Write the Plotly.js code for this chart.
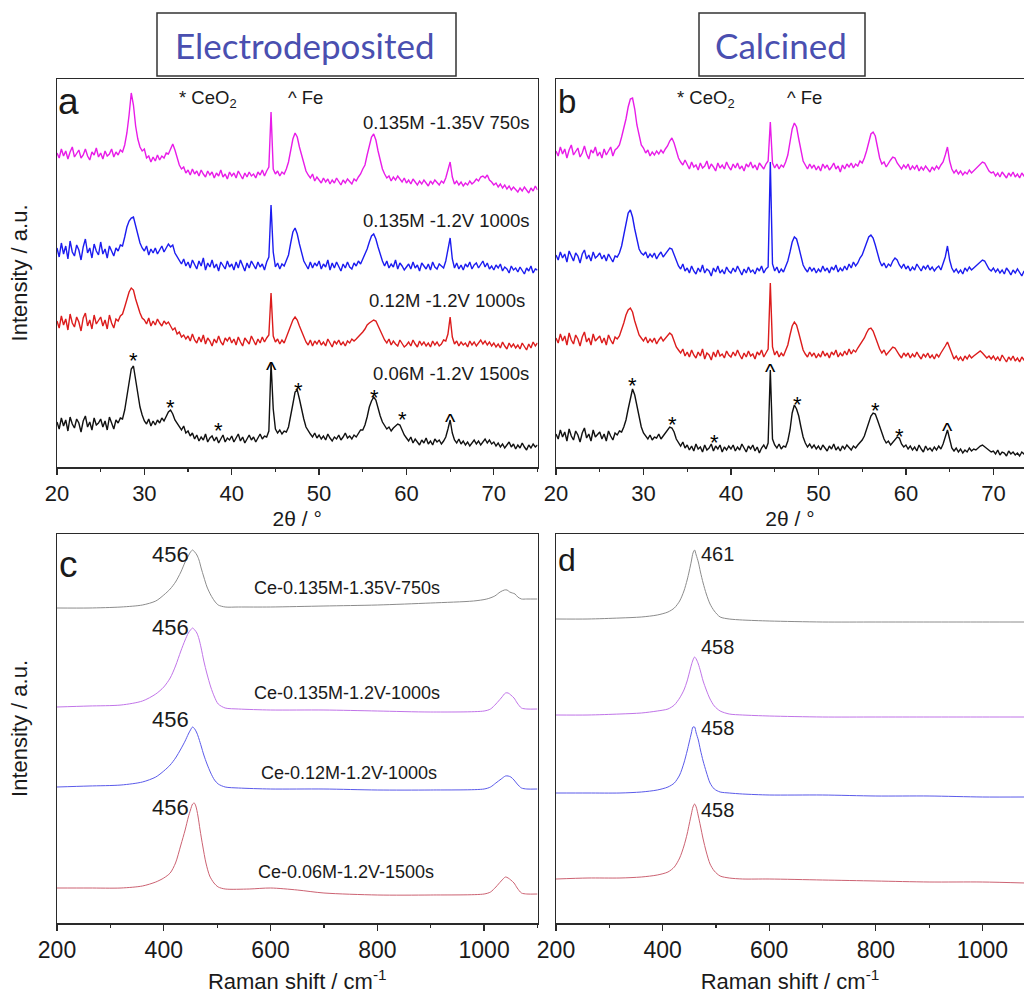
<!DOCTYPE html>
<html><head><meta charset="utf-8">
<script src="https://cdn.plot.ly/plotly-3.0.1.min.js"></script>
<style>html,body{margin:0;padding:0;background:#fff}#chart{width:1024px;height:994px}</style>
</head><body><div id="chart"></div>
<script>
// ---------- XRD data (2θ scan 20–75°, step 0.25°), intensities are stacked (offset) a.u. ----------
const twoTheta = [];
for (let i = 0; i <= 220; i++) twoTheta.push(+(20 + i * 0.25).toFixed(2));

const xrdA_135_135 = [
314,309,318,311,316,308,315,320,310,313,317,309,312,318,311,307,315,312,319,310,
314,308,316,311,313,318,310,315,312,317,315,322,334,352,374,362,341,328,320,316,
318,309,311,305,310,306,312,307,311,309,314,313,318,323,317,308,302,298,300,294,
297,292,298,293,296,291,297,293,290,296,292,295,289,294,291,297,290,293,288,295,
291,294,289,296,292,288,294,290,295,291,293,289,295,292,297,291,296,300,355,298,
293,296,291,295,293,298,305,318,328,334,330,320,312,303,296,292,289,293,286,290,
287,284,289,285,288,283,287,284,289,285,282,287,284,288,285,283,288,286,290,293,
298,302,312,322,330,333,327,316,306,298,293,289,291,286,290,287,291,288,285,289,
284,287,283,288,285,282,286,283,287,284,281,286,283,287,284,282,286,284,289,296,
305,290,283,286,282,285,281,284,282,286,283,285,288,286,290,291,289,292,287,285,
282,284,280,283,279,282,278,281,277,280,278,275,279,276,280,277,274,279,276,281,
277];
const xrdA_135_12 = [
219,210,224,213,221,208,226,215,211,222,217,207,220,228,214,219,209,223,216,212,
225,213,218,209,221,215,211,219,216,222,221,230,240,246,249,250,242,232,224,219,
216,221,212,218,214,219,213,217,221,215,219,223,220,222,214,210,206,203,208,201,
205,199,207,202,198,206,201,209,197,204,200,207,199,203,196,205,201,198,206,200,
203,197,205,199,207,201,196,204,199,206,202,198,205,200,203,197,205,210,262,215,
200,204,198,203,201,206,212,224,235,239,233,223,213,206,202,198,205,199,204,201,
206,198,203,200,207,197,204,199,205,201,196,203,199,205,200,198,204,201,206,203,
208,212,218,225,231,233,228,220,212,206,201,206,199,203,200,207,198,204,201,197,
200,203,198,205,199,202,196,204,201,198,203,197,205,200,198,203,201,199,206,216,
229,208,199,204,198,202,197,203,200,205,198,202,204,199,203,206,200,204,198,201,
197,202,199,203,196,200,198,194,201,197,199,195,200,196,193,199,196,201,194,198,
197];
const xrdA_12_12 = [
146,139,151,142,148,137,153,144,140,150,145,136,149,154,141,147,138,152,143,146,
150,141,147,138,152,144,139,148,146,151,153,160,168,175,179,177,168,160,154,149,
147,143,149,141,146,142,148,144,141,146,143,145,141,137,139,133,135,130,132,128,
131,126,133,127,124,130,125,132,123,129,126,121,128,124,131,125,122,129,126,130,
124,128,122,130,125,121,129,126,123,131,127,122,128,124,130,125,129,132,174,131,
125,128,123,127,124,130,134,141,147,150,147,141,135,129,125,122,127,121,126,123,
127,122,125,121,128,124,120,126,123,127,122,125,121,126,124,128,126,128,130,132,
135,138,142,144,146,147,146,141,136,131,127,124,128,122,126,123,121,127,124,120,
122,125,121,127,123,120,126,122,125,121,124,120,126,122,125,121,123,127,126,133,
150,130,123,126,121,125,122,124,120,126,122,125,121,124,127,123,126,122,125,121,
124,120,123,119,125,121,118,124,120,123,119,122,118,124,120,117,123,119,125,121,
124];
const xrdA_06_12 = [
45,38,49,41,47,36,50,43,39,48,44,35,46,51,40,45,37,49,42,44,
48,40,46,37,50,43,38,47,44,49,48,57,70,86,98,101,86,72,60,52,
46,43,48,41,46,42,47,44,49,46,51,55,57,53,47,44,40,37,41,34,
36,31,34,28,32,26,30,27,33,25,29,31,26,30,24,28,32,25,29,27,
31,25,29,33,26,30,24,28,32,27,30,25,29,33,28,31,30,36,104,58,
38,34,37,33,36,35,40,50,63,75,77,68,57,48,40,36,33,30,34,29,
32,28,31,27,33,29,26,30,28,32,27,30,34,29,31,28,32,30,34,37,
37,42,50,60,66,70,67,58,51,45,41,38,40,36,39,41,43,42,37,32,
29,26,30,24,28,25,22,27,24,29,23,26,22,28,25,27,23,26,30,38,
47,34,27,24,28,23,26,22,25,21,24,27,23,26,22,25,28,24,27,23,
25,21,24,20,23,19,22,25,20,23,18,22,19,24,20,17,22,19,23,20,
22];

const xrdB_135_135 = [
316,311,320,313,318,309,317,322,312,315,319,310,314,321,313,308,317,314,320,311,
315,309,318,312,316,320,311,317,319,322,330,338,348,360,368,369,358,342,330,322,
319,314,317,311,315,312,316,313,317,314,318,321,326,329,324,316,309,305,302,307,
303,298,305,300,302,297,304,299,301,306,298,303,300,296,304,299,302,298,305,300,
297,303,299,304,298,301,296,303,300,305,299,302,297,304,301,298,303,306,345,304,
299,303,298,302,300,305,312,325,338,344,340,328,316,306,302,298,303,299,302,297,
301,296,303,299,302,297,300,304,298,301,295,302,298,303,300,304,299,303,301,306,
304,309,316,326,333,335,331,320,309,303,305,300,304,307,310,309,304,301,298,302,
299,303,297,301,298,302,296,300,297,301,298,295,300,297,301,298,302,305,312,320,
306,298,294,297,293,296,292,295,293,297,294,296,298,301,303,305,304,300,296,294,
295,291,294,290,295,292,289,294,291,295,290,293,289,294,291,295,292,289,294,291,
293];
const xrdB_135_12 = [
212,207,215,209,213,205,216,210,206,214,211,204,213,217,208,212,206,215,209,211,
214,208,212,206,213,209,205,211,210,214,221,232,245,254,257,250,238,226,218,214,
212,215,209,213,210,214,208,212,215,210,213,216,219,218,212,206,201,198,203,196,
199,194,201,196,193,199,195,202,194,198,196,191,199,195,201,194,197,193,200,196,
194,199,195,201,196,192,198,194,200,195,197,193,199,196,201,194,198,200,305,203,
196,200,194,198,195,201,206,215,225,230,228,220,210,202,198,195,200,196,199,194,
198,195,201,196,199,194,200,197,202,195,199,196,201,197,203,199,205,201,204,209,
212,218,224,230,232,229,222,213,206,201,204,199,203,201,206,209,207,202,199,203,
198,201,196,200,197,203,199,196,201,198,202,197,200,196,199,201,197,203,210,221,
207,199,195,198,194,197,193,199,196,200,197,199,201,203,205,207,206,202,198,196,
199,195,198,194,197,193,199,196,192,197,194,198,195,191,196,193,197,194,190,195,
193];
const xrdB_12_12 = [
129,124,133,126,131,122,134,127,123,132,128,121,130,135,125,129,122,133,126,128,
131,124,129,122,132,127,123,130,128,131,137,144,152,157,159,155,146,138,132,129,
126,130,124,128,125,129,123,127,130,126,129,131,134,132,126,120,117,114,118,111,
115,110,117,112,109,115,111,118,108,114,112,107,115,110,117,111,113,109,116,112,
110,115,111,117,112,108,114,110,116,111,113,108,115,112,117,110,114,118,184,120,
112,116,110,114,111,117,122,132,141,145,142,134,124,117,113,110,115,111,114,109,
113,110,116,111,114,109,115,112,117,110,114,111,116,112,118,113,117,115,119,122,
125,129,134,138,139,136,130,123,118,114,117,112,115,118,120,119,115,112,109,114,
111,114,109,113,110,115,111,108,113,110,114,109,112,108,113,110,114,117,121,125,
119,112,108,111,107,110,106,111,108,112,109,111,113,115,116,114,112,109,111,108,
111,107,110,106,112,108,105,110,107,111,106,109,105,110,107,111,106,109,105,108,
107];
const xrdB_06_12 = [
33,28,37,30,35,26,38,31,27,36,32,25,34,39,29,33,26,37,30,32,
35,28,33,26,36,31,27,34,32,36,35,40,47,58,70,78,72,60,48,40,
34,31,28,32,27,30,29,33,28,31,34,37,40,39,35,28,24,21,25,19,
22,17,21,16,23,18,20,15,22,17,19,23,16,21,18,22,15,20,17,21,
18,22,16,20,17,23,19,15,21,18,22,16,20,14,19,22,18,24,97,28,
22,19,23,18,21,20,26,37,54,62,58,51,40,30,24,20,23,19,22,18,
21,17,22,19,16,21,18,23,17,20,16,21,18,22,19,17,21,19,22,24,
27,31,37,45,51,54,53,47,40,33,28,24,26,22,25,27,30,29,23,20,
22,18,21,17,20,16,22,18,15,21,17,19,16,20,17,21,18,23,30,37,
28,19,16,19,15,18,14,17,15,19,16,18,17,19,21,22,20,18,16,15,
16,13,17,12,15,14,11,16,13,15,12,14,11,15,13,16,12,14,11,14,
13];

const xrdLabels = ['0.135M -1.35V 750s', '0.135M -1.2V 1000s', '0.12M -1.2V 1000s', '0.06M -1.2V 1500s'];
const xrdColors = ['#e81ce8', '#1c1cf0', '#dc1c1c', '#111111'];

// phase markers on the bottom XRD patterns
const markA_pos = [28.7, 33.0, 38.5, 44.6, 47.6, 56.3, 59.6, 65.0];
const markA_h   = [114, 67, 44, 108, 84, 77, 55, 56];
const markB_pos = [28.8, 33.3, 38.1, 44.5, 47.6, 56.5, 59.3, 64.8];
const markB_h   = [89, 50, 32, 106, 70, 64, 38, 47];
const markSym   = ['*', '*', '*', '^', '*', '*', '*', '^'];

// ---------- Raman data (stacked, a.u.) ----------
const ramC_x1 = [200,260,320,360,385,400,412,422,432,440,446,450,454,458,462,466,470,475,481,488,495,502,515,540,600,700,800,900,980,1005,1020,1030,1038,1043,1048,1053,1058,1063,1070,1080,1100];
const ramC_y1 = [315,315,316,318,322,328,334,341,351,361,367,371,373,371,368,363,355,346,336,328,322,318,316,316,316,317,318,320,322,324,327,331,333,333,331,330,329,326,324,324,324];
const ramC_x2 = [200,260,320,360,385,400,412,422,432,440,446,450,454,458,462,466,470,475,481,488,495,502,515,540,600,700,800,900,1000,1012,1022,1032,1040,1045,1050,1056,1062,1070,1080,1100];
const ramC_y2 = [216,217,218,222,229,236,245,257,272,283,290,293,295,293,290,284,275,262,249,236,226,219,215,214,213,213,212,211,212,214,219,225,230,230,228,225,220,215,214,214];
const ramC_x3 = ramC_x2;
const ramC_y3 = [136,137,138,141,146,152,158,165,174,182,189,193,196,194,190,184,177,168,159,150,143,139,136,135,134,134,133,133,134,136,140,144,147,147,146,143,139,135,134,134];
const ramC_x4 = [200,260,320,360,385,400,412,422,432,440,446,450,454,457,460,464,468,473,479,486,494,502,515,560,600,650,700,800,900,1000,1012,1022,1032,1040,1045,1050,1056,1062,1070,1080,1100];
const ramC_y4 = [35,35,35,37,41,45,50,60,78,93,106,113,119,120,117,107,93,77,60,47,40,36,34,34,35,33,30,28,28,29,31,36,42,46,45,43,40,35,30,29,29];

const ramD_x = [200,260,320,360,390,410,422,432,440,446,450,454,457,460,463,467,471,476,482,489,497,508,525,550,600,700,800,900,1000,1080];
const ramD_y1 = [304,304,305,306,308,311,315,322,332,343,352,362,370,373,368,361,351,340,329,319,312,306,304,303,302,301,301,301,301,301];
const ramD_y2 = [208,208,209,210,212,214,218,225,233,242,250,258,263,266,264,259,252,242,233,224,217,212,209,208,207,206,206,206,206,206];
const ramD_y3 = [130,130,130,131,133,136,140,148,160,172,181,190,196,196,190,183,173,162,151,140,134,131,130,129,128,128,127,127,126,126];
const ramD_y4 = [44,45,45,46,48,51,56,65,77,89,99,109,116,119,116,107,97,84,71,59,52,47,45,44,44,43,42,41,41,40];

const ramLabels = ['Ce-0.135M-1.35V-750s', 'Ce-0.135M-1.2V-1000s', 'Ce-0.12M-1.2V-1000s', 'Ce-0.06M-1.2V-1500s'];
const ramC_peak = ['456', '456', '456', '456'];
const ramD_peak = ['461', '458', '458', '458'];
const ramColors = ['#8c8c8c', '#c074e8', '#5a5aea', '#cc6272'];

// ---------- build ----------
const W = 1024, H = 994;
const px = v => v / W, py = v => 1 - v / H;
const FONT = 'Liberation Sans, Arial, sans-serif';
const TXT = '#1a1a1a';

const traces = [];
[xrdA_135_135, xrdA_135_12, xrdA_12_12, xrdA_06_12].forEach((y, i) => traces.push({
  x: twoTheta, y: y, type: 'scatter', mode: 'lines', xaxis: 'x', yaxis: 'y',
  line: {color: xrdColors[i], width: 1.4}, name: xrdLabels[i], showlegend: false, hoverinfo: 'skip'}));
[xrdB_135_135, xrdB_135_12, xrdB_12_12, xrdB_06_12].forEach((y, i) => traces.push({
  x: twoTheta, y: y, type: 'scatter', mode: 'lines', xaxis: 'x2', yaxis: 'y2',
  line: {color: xrdColors[i], width: 1.4}, name: xrdLabels[i], showlegend: false, hoverinfo: 'skip'}));
[[ramC_x1, ramC_y1], [ramC_x2, ramC_y2], [ramC_x3, ramC_y3], [ramC_x4, ramC_y4]].forEach((d, i) => traces.push({
  x: d[0], y: d[1], type: 'scatter', mode: 'lines', xaxis: 'x3', yaxis: 'y3',
  line: {color: ramColors[i], width: 1, shape: 'spline', smoothing: 0.8}, name: ramLabels[i], showlegend: false, hoverinfo: 'skip'}));
[ramD_y1, ramD_y2, ramD_y3, ramD_y4].forEach((y, i) => traces.push({
  x: ramD_x, y: y, type: 'scatter', mode: 'lines', xaxis: 'x4', yaxis: 'y4',
  line: {color: ramColors[i], width: 1, shape: 'spline', smoothing: 0.8}, name: ramLabels[i], showlegend: false, hoverinfo: 'skip'}));

const axLine = '#2a2a2a';
function xax(domain, range, dtick, minorDtick, fs, title, tsize, standoff) {
  return {domain: domain, range: range, dtick: dtick, tick0: range[0], ticks: 'outside', ticklen: 6, tickwidth: 1.3,
    tickcolor: axLine, showline: true, linecolor: axLine, linewidth: 1.5, mirror: true, showgrid: false, zeroline: false,
    minor: {dtick: minorDtick, ticks: 'outside', ticklen: 3, tickwidth: 1.2, tickcolor: axLine, showgrid: false},
    tickfont: {family: FONT, size: fs, color: TXT}, fixedrange: true,
    title: {text: title, font: {family: FONT, size: tsize, color: TXT}, standoff: standoff}};
}
function yax(domain, range, anchor, mirror, title) {
  const a = {domain: domain, range: range, anchor: anchor, showticklabels: false, ticks: '', showgrid: false, zeroline: false,
    showline: true, linecolor: axLine, linewidth: 1.5, mirror: mirror, fixedrange: true};
  if (title) a.title = {text: title, font: {family: FONT, size: 22, color: TXT}, standoff: 22};
  return a;
}
const dTop = [py(467), py(79)], dBot = [py(923), py(534)];
const dL = [px(57), px(537.5)], dR = [px(556), 1];

const layout = {
  width: W, height: H, margin: {l: 0, r: 0, t: 0, b: 0}, paper_bgcolor: '#fff', plot_bgcolor: '#fff',
  showlegend: false, font: {family: FONT},
  xaxis: Object.assign(xax(dL, [20, 75], 10, 5, 22, '2θ / °', 21, 6), {anchor: 'y'}),
  yaxis: yax(dTop, [0, 388], 'x', true, 'Intensity / a.u.'),
  xaxis2: Object.assign(xax(dR, [20, 73.5], 10, 5, 22, '2θ / °', 21, 6), {anchor: 'y2'}),
  yaxis2: yax(dTop, [0, 388], 'x2', false, null),
  xaxis3: Object.assign(xax(dL, [200, 1100], 200, 100, 23, 'Raman shift / cm<sup>-1</sup>', 22, 11), {anchor: 'y3'}),
  yaxis3: yax(dBot, [0, 389], 'x3', true, 'Intensity / a.u.'),
  xaxis4: Object.assign(xax(dR, [200, 1078], 200, 100, 23, 'Raman shift / cm<sup>-1</sup>', 22, 17), {anchor: 'y4'}),
  yaxis4: yax(dBot, [0, 389], 'x4', false, null),
  shapes: [
    {type: 'rect', xref: 'paper', yref: 'paper', x0: px(157), x1: px(456), y0: py(76), y1: py(13), line: {color: '#333', width: 1.5}},
    {type: 'rect', xref: 'paper', yref: 'paper', x0: px(699), x1: px(865), y0: py(76), y1: py(13), line: {color: '#333', width: 1.5}}
  ],
  annotations: []
};
const ann = layout.annotations;
function txt(t, x, y, size, opts) {
  ann.push(Object.assign({text: t, x: px(x), y: py(y), xref: 'paper', yref: 'paper', showarrow: false,
    font: {family: FONT, size: size, color: TXT}, xanchor: 'center', yanchor: 'middle'}, opts || {}));
}
// section titles
txt('Electrodeposited', 305, 45, 35, {font: {family: 'Lato, sans-serif', size: 35, color: '#4a4fb0'}});
txt('Calcined', 781, 45, 35, {font: {family: 'Lato, sans-serif', size: 35, color: '#4a4fb0'}});
// panel letters
txt('a', 68, 101, 37); txt('b', 567, 101, 33); txt('c', 68, 564, 37); txt('d', 567, 560, 32);
// legends of phases
txt('* CeO<sub>2</sub>', 177, 99, 18.5, {xanchor: 'left'}); txt('^ Fe', 286, 97, 18.5, {xanchor: 'left'});
txt('* CeO<sub>2</sub>', 675, 99, 18.5, {xanchor: 'left'}); txt('^ Fe', 785, 97, 18.5, {xanchor: 'left'});
// XRD sample labels
const xrdLabY = [123, 221, 300, 373], xrdLabR = [532, 532, 527, 531];
xrdLabels.forEach((t, i) => txt(t, xrdLabR[i], xrdLabY[i], 18.5, {xanchor: 'right'}));
// phase markers
markSym.forEach((s, i) => {
  const dy = s === '*' ? 7 : 10;
  ann.push({text: s, x: markA_pos[i], y: markA_h[i], xref: 'x', yref: 'y', showarrow: false, yshift: -dy,
    font: {family: FONT, size: 22, color: '#000'}, xanchor: 'center', yanchor: 'middle'});
  ann.push({text: s, x: markB_pos[i], y: markB_h[i], xref: 'x2', yref: 'y2', showarrow: false, yshift: -dy,
    font: {family: FONT, size: 22, color: '#000'}, xanchor: 'center', yanchor: 'middle'});
});
// Raman labels
const ramLabY = [588, 693, 773, 872], ramLabX = [347, 347, 349, 346];
ramLabels.forEach((t, i) => txt(t, ramLabX[i], ramLabY[i], 18));
const ramCpY = [554, 627, 719, 807], ramDpY = [554, 647, 728, 810];
ramC_peak.forEach((t, i) => txt(t, 191, ramCpY[i], 22, {xanchor: 'right'}));
ramD_peak.forEach((t, i) => txt(t, 699, ramDpY[i], 20, {xanchor: 'left'}));

Plotly.newPlot('chart', traces, layout, {staticPlot: true});
</script></body></html>
